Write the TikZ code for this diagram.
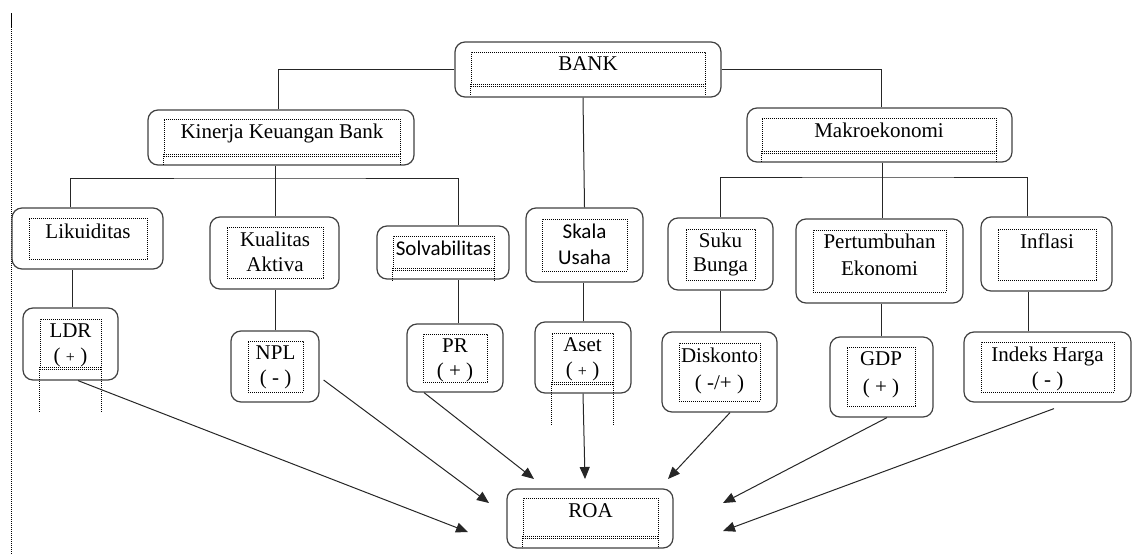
\documentclass[tikz,border=0pt]{standalone}
\usepackage{fontspec}
\setmainfont{Liberation Serif}
\newfontfamily\calib{Carlito}
\usetikzlibrary{arrows.meta}
\tikzset{
  obox/.style={draw=black!75, line width=1.2pt, rounded corners=10pt, rectangle, inner sep=0pt},
  ibox/.style={draw=black, line width=0.9pt, dash pattern=on 0.9pt off 1.1pt, rectangle, inner sep=0pt},
  dotext/.style={draw=black, line width=0.9pt, dash pattern=on 0.9pt off 1.1pt},
  txt/.style={inner sep=0pt, align=center, anchor=north, font=\fontsize{21}{25}\selectfont},
  conn/.style={draw=black!85, line width=1pt},
  arr/.style={draw=black!85, line width=1pt, -{Triangle[length=12pt,width=10pt]}}
}
\newcommand\smplus{{\fontsize{16}{16}\selectfont +}}
\begin{document}
\begin{tikzpicture}[x=1pt,y=-1pt]
\useasboundingbox (0,0) rectangle (1142,554);
% left margin line
\draw[dotext] (11,13) -- (11,554);
\draw[line width=1.6pt] (11.5,13) -- (11.5,28);

% BANK
\node[obox, minimum width=266pt, minimum height=55pt] (bank) at (588,69.5) {};
\node[ibox, minimum width=234pt, minimum height=32pt] (banki) at (588,68) {};
\node[txt] (bankt) at ([yshift=-5pt]banki.north) {BANK};
% Kinerja
\node[obox, minimum width=266pt, minimum height=55pt] (kin) at (281,137.5) {};
\node[ibox, minimum width=236pt, minimum height=35pt] (kini) at (282,136.5) {};
\node[txt] (kint) at ([yshift=-5pt]kini.north) {Kinerja Keuangan Bank};
% Makro
\node[obox, minimum width=265pt, minimum height=54pt] (mak) at (879.5,135) {};
\node[ibox, minimum width=234pt, minimum height=33pt] (maki) at (879,134.5) {};
\node[txt] (makt) at ([yshift=-5pt]maki.north) {Makroekonomi};
% Likuiditas
\node[obox, minimum width=151pt, minimum height=61pt] (lik) at (87.5,238.5) {};
\node[ibox, minimum width=118pt, minimum height=41pt] (liki) at (88,238.5) {};
\node[txt] (likt) at ([yshift=-6pt]liki.north) {Likuiditas};
% Kualitas
\node[obox, minimum width=129pt, minimum height=72pt] (kua) at (274.5,253) {};
\node[ibox, minimum width=96pt, minimum height=51pt] (kuai) at (275,252.5) {};
\node[txt] (kuat) at ([yshift=-5pt]kuai.north) {Kualitas\\Aktiva};
% Solvabilitas
\node[obox, minimum width=132pt, minimum height=53pt] (sol) at (443,252.5) {};
\node[ibox, minimum width=101pt, minimum height=32pt] (soli) at (443.5,252) {};
\node[txt, font=\calib\fontsize{21}{25}\selectfont] (solt) at ([yshift=-5pt]soli.north) {Solvabilitas};
% Skala
\node[obox, minimum width=117pt, minimum height=74pt] (ska) at (584.5,245) {};
\node[ibox, minimum width=85pt, minimum height=52pt] (skai) at (584.5,245) {};
\node[txt, font=\calib\fontsize{21}{26}\selectfont] (skat) at ([yshift=-5pt]skai.north) {Skala\\Usaha};
% Suku Bunga
\node[obox, minimum width=105pt, minimum height=72pt] (suk) at (720.5,254) {};
\node[ibox, minimum width=69pt, minimum height=51pt] (suki) at (720.5,254.5) {};
\node[txt, font=\fontsize{21}{24}\selectfont] (sukt) at ([yshift=-4pt]suki.north) {Suku\\Bunga};
% Pertumbuhan
\node[obox, minimum width=167pt, minimum height=84pt] (per) at (879.5,261) {};
\node[ibox, minimum width=133pt, minimum height=62pt] (peri) at (879.5,261) {};
\node[txt, font=\fontsize{21}{27}\selectfont] (pert) at ([yshift=-4pt]peri.north) {Pertumbuhan\\Ekonomi};
% Inflasi
\node[obox, minimum width=131pt, minimum height=74pt] (inf) at (1046.5,254) {};
\node[ibox, minimum width=98pt, minimum height=51pt] (infi) at (1047,254.5) {};
\node[txt] (inft) at ([yshift=-5pt]infi.north) {Inflasi};
% LDR
\node[obox, minimum width=95pt, minimum height=72pt] (ldr) at (70.5,344) {};
\node[ibox, minimum width=61pt, minimum height=48pt] (ldri) at (70.5,343) {};
\node[txt] (ldrt) at ([yshift=-5pt]ldri.north) {LDR\\( \smplus\ )};
% NPL
\node[obox, minimum width=88pt, minimum height=71pt] (npl) at (275,366.5) {};
\node[ibox, minimum width=55pt, minimum height=51pt] (npli) at (275.5,366.5) {};
\node[txt] (nplt) at ([yshift=-5pt]npli.north) {NPL\\( - )};
% PR
\node[obox, minimum width=96pt, minimum height=68pt] (pr) at (455,358) {};
\node[ibox, minimum width=64pt, minimum height=48pt] (pri) at (455,358) {};
\node[txt] (prt) at ([yshift=-5pt]pri.north) {PR\\( + )};
% Aset
\node[obox, minimum width=96pt, minimum height=71pt] (ase) at (583,357.5) {};
\node[ibox, minimum width=61pt, minimum height=49pt] (asei) at (582.5,357.5) {};
\node[txt] (aset) at ([yshift=-5pt]asei.north) {Aset\\( \smplus\ )};
% Diskonto
\node[obox, minimum width=115pt, minimum height=80pt] (dis) at (719.5,372) {};
\node[ibox, minimum width=81pt, minimum height=58pt] (disi) at (719.5,372) {};
\node[txt, font=\fontsize{21}{27}\selectfont] (dist) at ([yshift=-5pt]disi.north) {Diskonto\\( -/+ )};
% GDP
\node[obox, minimum width=103pt, minimum height=80pt] (gdp) at (881.5,377) {};
\node[ibox, minimum width=68pt, minimum height=59pt] (gdpi) at (881,376.5) {};
\node[txt, font=\fontsize{21}{28}\selectfont] (gdpt) at ([yshift=-5pt]gdpi.north) {GDP\\( + )};
% Indeks
\node[obox, minimum width=167pt, minimum height=70pt] (ind) at (1047.5,367) {};
\node[ibox, minimum width=133pt, minimum height=50pt] (indi) at (1047.5,367) {};
\node[txt] (indt) at ([yshift=-5pt]indi.north) {Indeks Harga\\( - )};
% ROA
\node[obox, minimum width=166pt, minimum height=59pt] (roa) at (590,518.5) {};
\node[ibox, minimum width=135pt, minimum height=38pt] (roai) at (590.5,517) {};
\node[txt] (roat) at ([yshift=-6pt]roai.north) {ROA};

% dotted extensions (double bottom + legs)
\foreach \b/\l in {banki/11, kini/11, maki/11, soli/13, ldri/45, asei/43, roai/12}{
  \draw[dotext] ([yshift=-1.6pt]\b.south west) -- ([yshift=-1.6pt]\b.south east);
  \draw[dotext] (\b.south west) -- ([yshift=-\l pt]\b.south west);
  \draw[dotext] (\b.south east) -- ([yshift=-\l pt]\b.south east);
}

% tree connectors
\draw[conn] (bank.west) -| ([xshift=-3pt]kin.north);
\draw[conn] (bank.east) -| ([xshift=2pt]mak.north);
\draw[conn] ([xshift=-5pt]bank.south) -- (ska.north);
\coordinate (kj) at (275,178);
\coordinate (mj) at (882,177);
\draw[conn] (kin.south -| kj) -- (kj);
\draw[conn] ([xshift=-17.5pt]lik.north) |- (kj) -| ([xshift=15pt]sol.north);
\draw[conn] (kj) -- (kua.north -| kj);
\draw[conn] (mak.south -| mj) -- (mj);
\draw[conn] (suk.north) |- (mj) -| ([xshift=-19.5pt]inf.north);
\draw[conn] (mj) -- (per.north -| mj);
\draw[conn] ([xshift=1.5pt]ldr.north) -- ([xshift=1.5pt]ldr.north |- lik.south);
\draw[conn] (npl.north) -- (npl.north |- kua.south);
\draw[conn] ([xshift=3pt]pr.north) -- ([xshift=3pt]pr.north |- sol.south);
\draw[conn] (ase.north) -- (ase.north |- ska.south);
\draw[conn] ([xshift=1pt]dis.north) -- ([xshift=1pt]dis.north |- suk.south);
\draw[conn] (gdp.north) -- (gdp.north |- per.south);
\draw[conn] ([xshift=-19.5pt]ind.north) -- ([xshift=-19.5pt]ind.north |- inf.south);

% arrows to ROA
\coordinate (e1) at (468,532);
\coordinate (e2) at (489,503);
\coordinate (e3) at (534,479);
\coordinate (e4) at (585,479);
\coordinate (e5) at (668,479);
\coordinate (e6) at (723,503);
\coordinate (e7) at (723,531);
\draw[arr] ([xshift=7.5pt]ldr.south) -- (e1);
\draw[arr] ([shift={(4pt,-13.5pt)}]npl.east) -- (e2);
\draw[arr] ([xshift=-31pt]pr.south) -- (e3);
\draw[arr] (ase.south) -- (e4);
\draw[arr] ([xshift=10.5pt]dis.south) -- (e5);
\draw[arr] ([xshift=5.5pt]gdp.south) -- (e6);
\draw[arr] ([shift={(6.5pt,-6pt)}]ind.south) -- (e7);
\end{tikzpicture}
\end{document}
